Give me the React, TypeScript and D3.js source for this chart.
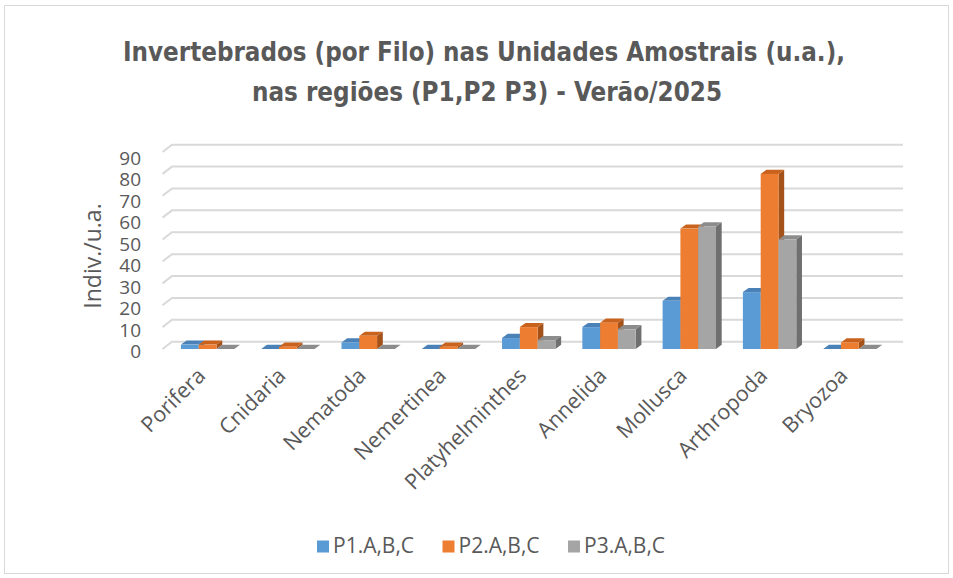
import React, { useEffect, useRef } from "react";
import * as d3 from "d3";

const categories = [
  "Porifera",
  "Cnidaria",
  "Nematoda",
  "Nemertinea",
  "Platyhelminthes",
  "Annelida",
  "Mollusca",
  "Arthropoda",
  "Bryozoa",
];
const seriesNames = ["P1.A,B,C", "P2.A,B,C", "P3.A,B,C"];
const p1Values = [2, 0, 3, 0, 5, 10, 22, 26, 0];
const p2Values = [2, 1, 6, 1, 10, 12, 55, 80, 3];
const p3Values = [0, 0, 0, 0, 4, 9, 56, 50, 0];
const yTicks = [0, 10, 20, 30, 40, 50, 60, 70, 80, 90];
const titleLines = [
  "Invertebrados (por Filo) nas Unidades Amostrais (u.a.),",
  "nas regiões (P1,P2 P3) - Verão/2025",
];
const yAxisTitle = "Indiv./u.a.";

// front / top / side shades per series
const frontColors = ["#5b9bd5", "#ed7d31", "#a5a5a5"];
const topColors = ["#4a82b8", "#c8621d", "#8c8c8c"];
const sideColors = ["#3f6f9e", "#a4521a", "#6f6f6f"];

export default function App() {
  const svgRef = useRef<SVGSVGElement>(null);

  useEffect(() => {
    document.body.style.margin = "0";
    const width = 953;
    const height = 578;
    const textColor = "#595959";
    const font = "'Open Sans', 'Noto Sans', sans-serif";

    const svg = d3.select(svgRef.current).attr("width", width).attr("height", height);
    svg.selectAll("*").remove();

    svg.append("rect").attr("width", width).attr("height", height).attr("fill", "#ffffff");
    svg
      .append("rect")
      .attr("x", 4.5)
      .attr("y", 5.5)
      .attr("width", 944)
      .attr("height", 568)
      .attr("fill", "none")
      .attr("stroke", "#d9d9d9");

    // title
    const titleX = [484, 487];
    const titleLen = [722, 470];
    svg
      .selectAll("text.title")
      .data(titleLines)
      .join("text")
      .attr("class", "title")
      .attr("x", (d, i) => titleX[i])
      .attr("y", (d, i) => 61 + i * 40)
      .attr("text-anchor", "middle")
      .attr("textLength", (d, i) => titleLen[i])
      .attr("lengthAdjust", "spacingAndGlyphs")
      .attr("font-family", "'Liberation Sans Narrow', 'DejaVu Sans Condensed', sans-serif")
      .attr("font-weight", "bold")
      .attr("font-size", 27)
      .attr("fill", textColor)
      .text((d) => d);

    // 3D geometry
    const wallDx = 9.5;
    const wallDy = -7.3;
    const barDx = 5.7;
    const barDy = -4.2;

    const y = d3.scaleLinear().domain([0, 90]).range([349, 152]);
    const yLabel = d3.scaleLinear().domain([0, 90]).range([351.5, 158]);
    const x0 = d3.scaleBand().domain(categories).range([167.5, 890]).padding(0);
    const x1 = d3
      .scaleBand()
      .domain(seriesNames)
      .range([0, x0.bandwidth()])
      .paddingInner(0)
      .paddingOuter(0.756);

    const gridLeft = 162.5;
    const gridRight = 903;

    // back wall gridlines with floor diagonals
    svg
      .append("g")
      .selectAll("path")
      .data(yTicks)
      .join("path")
      .attr(
        "d",
        (t) =>
          `M${gridLeft},${y(t)} L${gridLeft + wallDx},${y(t) + wallDy} L${gridRight},${y(t) + wallDy}`
      )
      .attr("fill", "none")
      .attr("stroke", "#d9d9d9")
      .attr("stroke-width", 2);

    // y tick labels
    svg
      .append("g")
      .selectAll("text")
      .data(yTicks)
      .join("text")
      .attr("x", 141)
      .attr("y", (t) => yLabel(t))
      .attr("dy", "0.35em")
      .attr("text-anchor", "end")
      .attr("font-family", font)
      .attr("font-size", 19)
      .attr("fill", textColor)
      .text((t) => String(t));

    // y axis title
    svg
      .append("text")
      .attr("transform", "translate(101,256) rotate(-90)")
      .attr("text-anchor", "middle")
      .attr("font-family", font)
      .attr("font-size", 23)
      .attr("fill", textColor)
      .text(yAxisTitle);

    // bars
    const series = [p1Values, p2Values, p3Values];
    const barsG = svg.append("g");
    categories.forEach((cat, ci) => {
      seriesNames.forEach((name, si) => {
        const v = series[si][ci];
        const bx = (x0(cat) ?? 0) + (x1(name) ?? 0);
        const bw = x1.bandwidth();
        const top = y(v);
        const bottom = y(0);
        const g = barsG.append("g");
        g.append("path")
          .attr(
            "d",
            `M${bx + bw},${bottom} L${bx + bw + barDx},${bottom + barDy} L${bx + bw + barDx},${top + barDy} L${bx + bw},${top} Z`
          )
          .attr("fill", sideColors[si]);
        g.append("path")
          .attr(
            "d",
            `M${bx},${top} L${bx + barDx},${top + barDy} L${bx + bw + barDx},${top + barDy} L${bx + bw},${top} Z`
          )
          .attr("fill", topColors[si]);
        g.append("rect")
          .attr("x", bx)
          .attr("y", top)
          .attr("width", bw)
          .attr("height", bottom - top)
          .attr("fill", frontColors[si]);
      });
    });

    // category labels
    svg
      .append("g")
      .selectAll("text")
      .data(categories)
      .join("text")
      .attr(
        "transform",
        (c) => `translate(${(x0(c) ?? 0) + x0.bandwidth() / 2 - 1},377) rotate(-45)`
      )
      .attr("text-anchor", "end")
      .attr("font-family", font)
      .attr("font-size", 21.5)
      .attr("fill", textColor)
      .text((c) => c);

    // legend
    const legend = svg
      .append("g")
      .selectAll("g")
      .data(seriesNames)
      .join("g")
      .attr("transform", (d, i) => `translate(${317 + i * 125.5},0)`);
    legend
      .append("rect")
      .attr("x", 0)
      .attr("y", 540.5)
      .attr("width", 12)
      .attr("height", 12)
      .attr("fill", (d, i) => frontColors[i]);
    legend
      .append("text")
      .attr("x", 16)
      .attr("y", 552.5)
      .attr("font-family", font)
      .attr("font-size", 21)
      .attr("fill", textColor)
      .text((d) => d);
  }, []);

  return <svg ref={svgRef}></svg>;
}
